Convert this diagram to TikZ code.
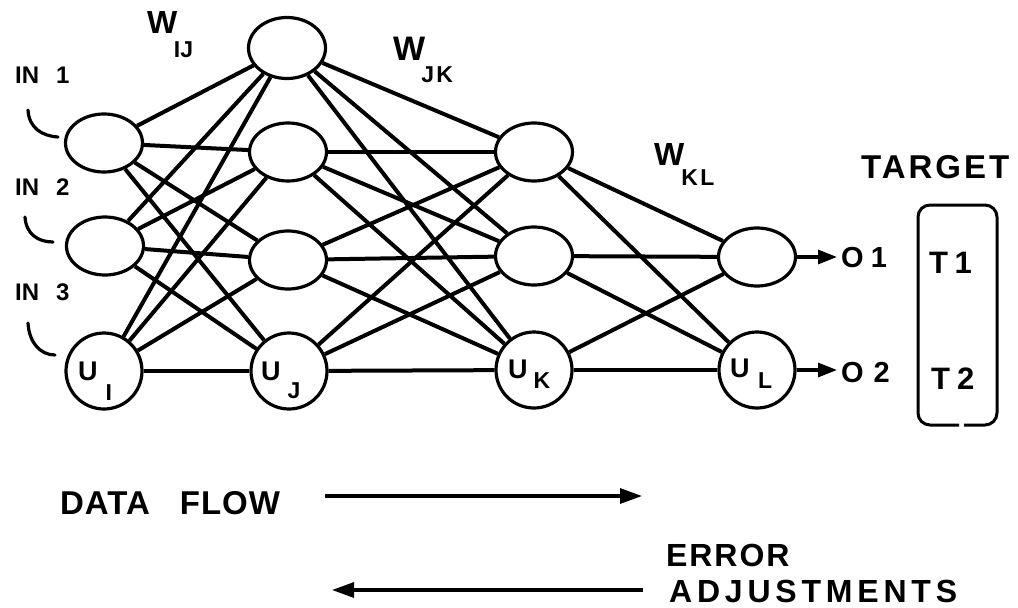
\documentclass[tikz,border=0pt]{standalone}
\usepackage{fontspec}
\setmainfont{Liberation Sans}
\usetikzlibrary{arrows.meta,shapes.geometric}
% font size in pt (1pt = one unit of the picture)
\newcommand{\fs}[1]{\fontsize{#1}{#1}\selectfont}
% tracking, as a percentage of the font size
\newcommand{\lsp}[1]{\addfontfeature{LetterSpace=#1}}
% lowered subscript: gap, drop, text
\newcommand{\lowsub}[3]{\hspace{#1}\raisebox{-#2}{\fs{23}#3}}
\begin{document}
\begin{tikzpicture}[x=1pt,y=-1pt,
  hid/.style={draw, line width=3.2pt, ellipse, minimum width=77pt, minimum height=58pt, inner sep=0pt},
  unit/.style={draw, line width=3.2pt, circle, minimum size=76pt, inner sep=0pt},
  wire/.style={line width=4pt},
  txt/.style={inner sep=0pt, anchor=base west, font=\bfseries},
  outarrow/.style={line width=3.2pt, -{Triangle[length=19pt,width=14pt]}, shorten >=4pt},
  bigarrow/.style={line width=3.2pt, -{Triangle[length=22pt,width=15pt]}},
  inmark/.style={line width=3.2pt, line cap=round}]
\useasboundingbox (0,0) rectangle (1018,608);

% ---- layer I
\node[hid]  (i1) at (104,143) {};
\node[hid]  (i2) at (105,246) {};
\node[unit] (ui) at (104,371) {};
% ---- layer J
\node[hid, minimum height=61pt] (j0) at (287,48) {};
\node[hid]  (j1) at (288,152) {};
\node[hid]  (j2) at (288,260) {};
\node[unit] (uj) at (289,371) {};
% ---- layer K
\node[hid]  (k1) at (534,152) {};
\node[hid]  (k2) at (534,256) {};
\node[unit] (uk) at (534,370) {};
% ---- layer L
\node[hid]  (l1) at (757,257) {};
\node[unit] (ul) at (757,370) {};

% ---- weights: every unit feeds every unit of the next layer
\foreach \a in {i1,i2,ui} \foreach \b in {j0,j1,j2,uj} \draw[wire] (\a) -- (\b);
\foreach \a in {j0,j1,j2,uj} \foreach \b in {k1,k2,uk} \draw[wire] (\a) -- (\b);
\foreach \a in {k1,k2,uk} \foreach \b in {l1,ul} \draw[wire] (\a) -- (\b);

% ---- unit labels
\node[txt, font=\bfseries\fs{27}] (tui) at (78,380)  {U\lowsub{8pt}{20pt}{I}};
\node[txt, font=\bfseries\fs{27}] (tuj) at (261,380) {U\lowsub{7pt}{18pt}{J}};
\node[txt, font=\bfseries\fs{27}] (tuk) at (508,378) {U\lowsub{6pt}{10pt}{K}};
\node[txt, font=\bfseries\fs{27}] (tul) at (730,377) {U\lowsub{8.5pt}{11pt}{L}};

% ---- weight labels
\node[txt, font=\bfseries\fs{32}] (wij) at (147,33)  {W\lowsub{-3.5pt}{24pt}{IJ}};
\node[txt, font=\bfseries\fs{34}] (wjk) at (393,60)  {W\lowsub{-4pt}{22pt}{\lsp{10}JK}};
\node[txt, font=\bfseries\fs{32}] (wkl) at (654,165) {W\lowsub{-3pt}{20pt}{\lsp{10}KL}};

% ---- inputs
\node[txt, font=\bfseries\fs{24}] (in1) at (15,83)  {IN\hspace{17pt}1};
\node[txt, font=\bfseries\fs{24}] (in2) at (15,195) {IN\hspace{17pt}2};
\node[txt, font=\bfseries\fs{24}] (in3) at (15,300) {IN\hspace{17pt}3};
\draw[inmark] (28,110) .. controls (29,128) and (42,136) .. (58,137);
\draw[inmark] (25,217) .. controls (26,234) and (38,242) .. (53,242);
\draw[inmark] (28,323) .. controls (29,342) and (40,355) .. (55,355);

% ---- outputs and targets
\node[txt, font=\bfseries\fs{29}] (o1) at (841,267) {O\hspace{7pt}1};
\node[txt, font=\bfseries\fs{29}] (o2) at (841,382) {O\hspace{10pt}2};
\draw[outarrow] (l1.east) -- (l1.east -| o1.west);
\draw[outarrow] (ul.east) -- (ul.east -| o2.west);

\node[txt, font=\bfseries\fs{33}\lsp{9}] (target) at (861,178) {TARGET};
\node[txt, font=\bfseries\fs{31}] (t1) at (929,273) {T\hspace{6.5pt}1};
\node[txt, font=\bfseries\fs{31}] (t2) at (931,389) {T\hspace{7pt}2};
\draw[line width=3pt, rounded corners=12pt]
  (964,425) -- (997,425) -- (997,205) -- (918,205) -- (918,425) -- (959,425);

% ---- directions
\node[txt, font=\bfseries\fs{33}\lsp{3}] (dflow) at (60,514) {DATA\hspace{30pt}FLOW};
\coordinate (df1) at (325,496);
\coordinate (df2) at (642,496);
\draw[bigarrow] (df1) -- (df2);

\node[txt, font=\bfseries\fs{32}\lsp{6}] (err) at (666,566) {ERROR};
\node[txt, font=\bfseries\fs{32}\lsp{15}] (adj) at (669,602) {ADJUSTMENTS};
\coordinate (ea1) at (643,590);
\coordinate (ea2) at (332,590);
\draw[bigarrow] (ea1) -- (ea2);
\end{tikzpicture}
\end{document}
